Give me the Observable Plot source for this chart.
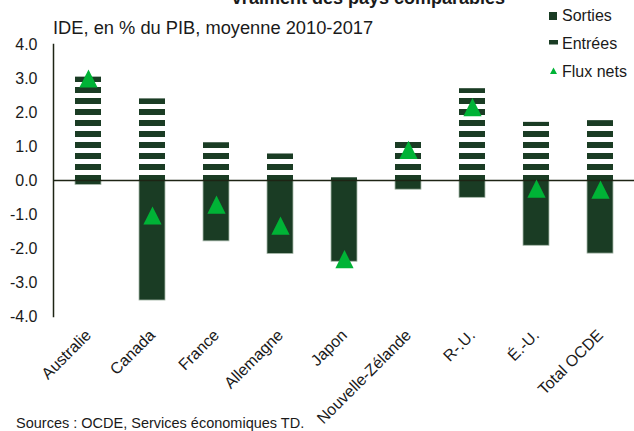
<!DOCTYPE html>
<html><head><meta charset="utf-8">
<script src="https://cdn.jsdelivr.net/npm/d3@7"></script>
<script src="https://cdn.jsdelivr.net/npm/@observablehq/plot@0.6"></script>
<style>
body{margin:0;background:#fff;}
#wrap{position:relative;width:634px;height:431px;overflow:hidden;font-family:"Liberation Sans",Arial,sans-serif;}
</style></head><body><div id="wrap"></div>
<script>
const pays = ["Australie","Canada","France","Allemagne","Japon","Nouvelle-Zélande","R-.U.","É.-U.","Total OCDE"];
const sorties = [3.04, 2.40, 1.11, 0.78, 0.08, 1.12, 2.70, 1.71, 1.76];
const entrees = [-0.13, -3.53, -1.79, -2.16, -2.39, -0.27, -0.51, -1.92, -2.15];
const nets = [3.00, -1.03, -0.71, -1.33, -2.31, 0.90, 2.16, -0.24, -0.27];
const yTicks = [-4, -3, -2, -1, 0, 1, 2, 3, 4];
const seriesNames = ["Sorties", "Entrées", "Flux nets"];
const titleText = "vraiment des pays comparables";
const subtitleText = "IDE, en % du PIB, moyenne 2010-2017";
const sourceText = "Sources : OCDE, Services économiques TD.";

const rows = pays.map((p, i) => ({pays: p, sorties: sorties[i], entrees: entrees[i], nets: nets[i]}));

const dark = "#1a3c24";
const green = "#00b336";
const axisCol = "#1e2414";
const textCol = "#1a1a1a";

const tri = {
  draw(ctx, size) {
    const r = Math.sqrt(size / Math.PI);
    const h = 1.3 * r;
    ctx.moveTo(0, -h);
    ctx.lineTo(h, h);
    ctx.lineTo(-h, h);
    ctx.closePath();
  }
};

const plot = Plot.plot({
  width: 634, height: 431,
  marginTop: 44, marginBottom: 115, marginLeft: 53, marginRight: 0,
  style: {fontFamily: "Liberation Sans, Arial, sans-serif", fontSize: "16px", color: textCol, background: "transparent"},
  x: {domain: pays, paddingInner: 0.6, paddingOuter: 0.3, label: null},
  y: {domain: [-4, 4], label: null},
  marks: [
    Plot.barY(rows, {x: "pays", y: "entrees", fill: dark, stroke: "#a7b8aa", strokeWidth: 0.8}),
    Plot.barY(rows, {x: "pays", y: "sorties", fill: "url(#stripes)"}),
    Plot.ruleY([0], {stroke: axisCol, strokeWidth: 1.5}),
    Plot.axisY({ticks: yTicks, tickFormat: d => d.toFixed(1), tickSize: 0, tickPadding: 16, fontSize: 16, label: null}),
    Plot.axisX({tickRotate: -45, tickSize: 0, tickPadding: 16, textAnchor: "end", lineAnchor: "middle", fontSize: 16, label: null}),
    Plot.frame({anchor: "left", stroke: axisCol, strokeWidth: 1.5}),
    Plot.dot(rows, {x: "pays", y: "nets", symbol: tri, fill: green, r: 7, stroke: "none"})
  ]
});

document.getElementById("wrap").appendChild(plot);

const svg = d3.select(plot);
const y0 = plot.scale("y").apply(0);
const defs = svg.insert("defs", ":first-child");
const pat = defs.append("pattern").attr("id", "stripes").attr("patternUnits", "userSpaceOnUse")
  .attr("x", 0).attr("y", y0 - 5).attr("width", 634).attr("height", 11);
pat.append("rect").attr("x", 0).attr("y", 0).attr("width", 634).attr("height", 6).attr("fill", dark);

const ov = svg.append("g").attr("font-family", "Liberation Sans, Arial, sans-serif").attr("fill", textCol).attr("text-anchor", "start");
ov.append("text").attr("x", 505).attr("y", 4).attr("text-anchor", "end").attr("font-weight", "bold").attr("font-size", 18).text(titleText);
ov.append("text").attr("x", 53).attr("y", 33.5).attr("font-size", 18.3).text(subtitleText);
ov.append("text").attr("x", 16).attr("y", 428).attr("font-size", 14.5).text(sourceText);

// legend
ov.append("rect").attr("x", 549).attr("y", 12).attr("width", 8).attr("height", 8).attr("fill", dark);
ov.append("text").attr("x", 562).attr("y", 21).attr("font-size", 16).text(seriesNames[0]);
ov.append("rect").attr("x", 549).attr("y", 40).attr("width", 9).attr("height", 4.5).attr("fill", dark);
ov.append("text").attr("x", 562).attr("y", 49).attr("font-size", 16).text(seriesNames[1]);
ov.append("path").attr("d", "M553.5,67.5L557,74L550,74Z").attr("fill", green);
ov.append("text").attr("x", 562).attr("y", 77).attr("font-size", 16).text(seriesNames[2]);
</script></body></html>
